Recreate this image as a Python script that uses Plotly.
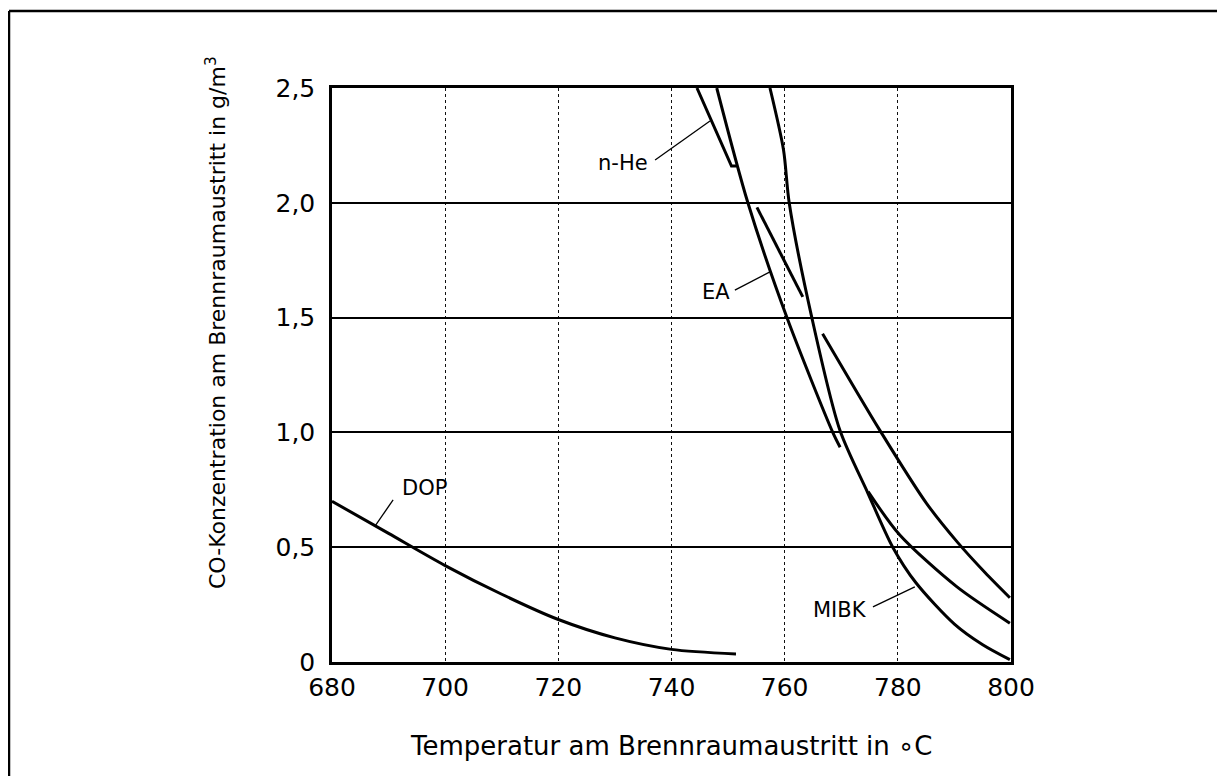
import plotly.graph_objects as go

# ---- data ----
x_ticks = [680, 700, 720, 740, 760, 780, 800]
x_ticklabels = ["680", "700", "720", "740", "760", "780", "800"]
y_ticks = [0, 0.5, 1.0, 1.5, 2.0, 2.5]
y_ticklabels = ["0", "0,5", "1,0", "1,5", "2,0", "2,5"]

dop_T = [680, 690, 700, 710, 720, 730, 740, 751.4]
dop_v = [0.70, 0.56, 0.42, 0.295, 0.185, 0.105, 0.055, 0.035]

nhe_T = [744.5, 750.6, 751.5]
nhe_v = [2.50, 2.16, 2.16]

ea_T = [748.0, 753.5, 760.4, 768.5, 769.8]
ea_v = [2.50, 2.00, 1.50, 1.00, 0.935]

mibk_T = [757.4, 759.8, 760.8, 764.8, 769.75, 774.7, 779.1, 783.2, 790.0, 795.0, 799.8]
mibk_v = [2.50, 2.23, 2.00, 1.50, 1.01, 0.736, 0.50, 0.345, 0.165, 0.075, 0.01]

seg_d_T = [755.1, 763.2]
seg_d_v = [1.98, 1.59]

seg_e_T = [766.7, 776.8, 785.1, 790.6, 795.4, 799.8]
seg_e_v = [1.43, 1.01, 0.69, 0.52, 0.39, 0.28]

seg_f_T = [774.75, 780.35, 790.4, 799.8]
seg_f_v = [0.742, 0.553, 0.328, 0.169]

labels = ["DOP", "n-He", "EA", "MIBK"]
label_T = [696.4, 731.4, 747.8, 769.75]
label_v = [0.758, 2.173, 1.611, 0.226]
ptr_from_T = [690.8, 737.1, 751.2, 775.6]
ptr_from_v = [0.706, 2.186, 1.620, 0.240]
ptr_to_T = [687.6, 746.8, 757.4, 783.0]
ptr_to_v = [0.592, 2.356, 1.699, 0.327]

FONT = "DejaVu Sans, Liberation Sans, Arial"

# figure pixel geometry (page has an 8px body margin)
W, H = 1218, 768
ML, MR, MT, MB = 324, 215, 80, 114
PW, PH = W - ML - MR, H - MT - MB

fig = go.Figure()

for T, v, shape in [
    (dop_T, dop_v, "spline"),
    (nhe_T, nhe_v, "linear"),
    (ea_T, ea_v, "spline"),
    (mibk_T, mibk_v, "spline"),
    (seg_d_T, seg_d_v, "linear"),
    (seg_e_T, seg_e_v, "spline"),
    (seg_f_T, seg_f_v, "spline"),
]:
    fig.add_trace(go.Scatter(x=T, y=v, mode="lines",
                             line=dict(color="black", width=3, shape=shape,
                                       smoothing=0.8),
                             hoverinfo="skip", showlegend=False))

# pointer lines for labels
for fT, fv, tT, tv in zip(ptr_from_T, ptr_from_v, ptr_to_T, ptr_to_v):
    fig.add_trace(go.Scatter(x=[fT, tT], y=[fv, tv], mode="lines",
                             line=dict(color="black", width=1.3),
                             hoverinfo="skip", showlegend=False))

for txt, T, v in zip(labels, label_T, label_v):
    fig.add_annotation(x=T, y=v, xref="x", yref="y", text=txt, showarrow=False,
                       font=dict(family=FONT, size=21, color="black"),
                       xanchor="center", yanchor="middle")

# axis titles
fig.add_annotation(x=0.5, y=0, xref="paper", yref="paper",
                   text="Temperatur am Brennraumaustritt in \u2218C", showarrow=False,
                   font=dict(family=FONT, size=26, color="black"),
                   xanchor="center", yanchor="middle", yshift=-84)
fig.add_annotation(x=0, y=0.5, xref="paper", yref="paper",
                   text="CO-Konzentration am Brennraumaustritt in g/m<sup>3</sup>",
                   showarrow=False, textangle=-90,
                   font=dict(family=FONT, size=22, color="black"),
                   xanchor="center", yanchor="middle", xshift=-116, yshift=52)

# outer frame (top and left edges)
top_y = (PH + MT - 3) / PH
left_x = (1 - ML) / PW
fig.add_shape(type="line", xref="paper", yref="paper",
              x0=left_x, x1=(1209 - ML) / PW, y0=top_y, y1=top_y,
              line=dict(color="black", width=2.5))
fig.add_shape(type="line", xref="paper", yref="paper",
              x0=left_x, x1=left_x, y0=top_y, y1=-(MB) / PH,
              line=dict(color="black", width=2.5))

fig.update_layout(
    width=W, height=H,
    margin=dict(l=ML, r=MR, t=MT, b=MB),
    paper_bgcolor="white", plot_bgcolor="white",
    font=dict(family=FONT, color="black"),
    showlegend=False,
)
fig.update_xaxes(range=[680, 800], tickvals=x_ticks, ticktext=x_ticklabels,
                 showline=True, linecolor="black", linewidth=2.5, mirror=True,
                 showgrid=True, gridcolor="#111", gridwidth=1, griddash="dot",
                 ticks="", ticklabelstandoff=1,
                 tickfont=dict(family=FONT, size=25, color="black"), zeroline=False)
fig.update_yaxes(range=[0, 2.5], tickvals=y_ticks, ticktext=y_ticklabels,
                 showline=True, linecolor="black", linewidth=2.5, mirror=True,
                 showgrid=True, gridcolor="black", gridwidth=2,
                 ticks="", ticklabelstandoff=9,
                 tickfont=dict(family=FONT, size=25, color="black"), zeroline=False)

fig.write_html("out.html")
